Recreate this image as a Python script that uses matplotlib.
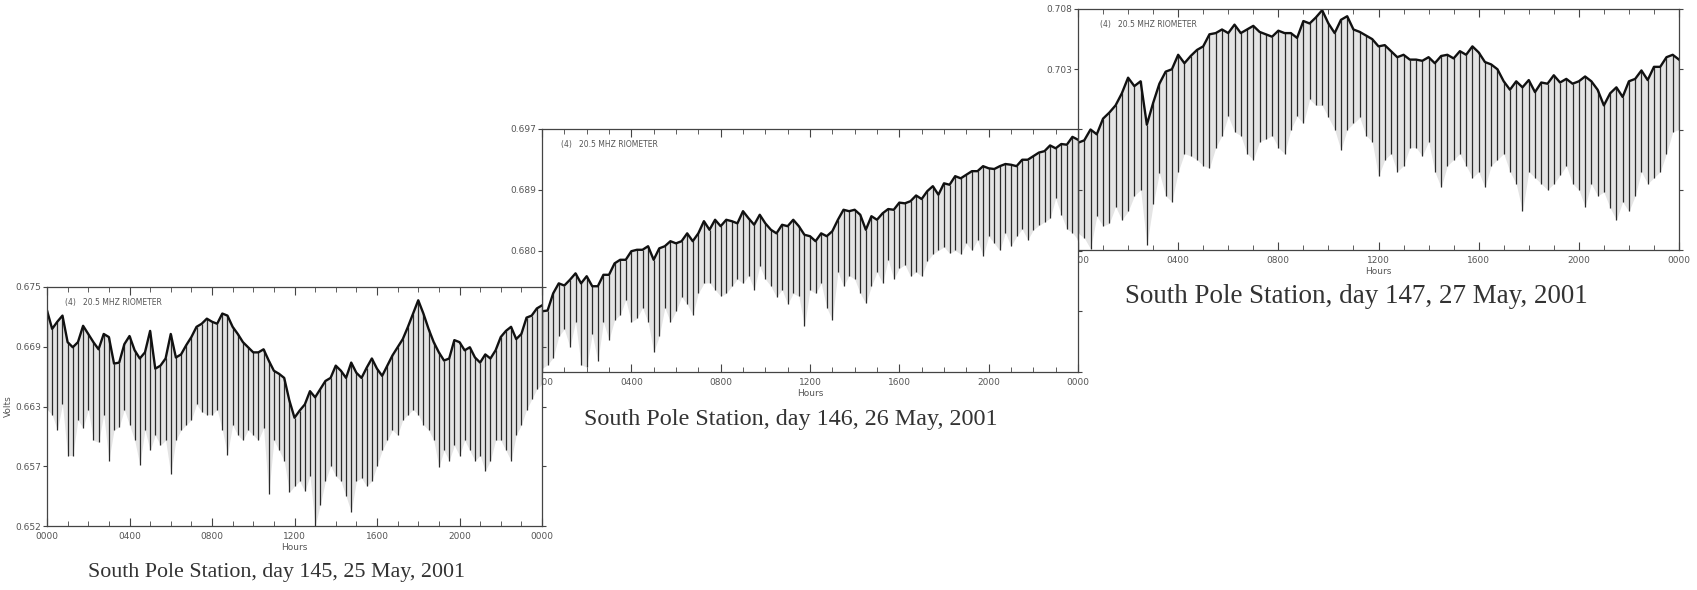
import numpy as np
import matplotlib.pyplot as plt

# 15 minute samples over one day
hours = np.arange(0, 24.25, 0.25)

hour_ticks = [0, 4, 8, 12, 16, 20, 24]
hour_labels = ['0000', '0400', '0800', '1200', '1600', '2000', '0000']

# day 145 - upper trace and spike minima (volts)
day145_top = [0.6727, 0.6709, 0.6716, 0.6722, 0.6696, 0.6691, 0.6696, 0.6712,
              0.6704, 0.6696, 0.6689, 0.6704, 0.6701, 0.6675, 0.6676, 0.6694,
              0.6702, 0.6688, 0.6680, 0.6686, 0.6707, 0.6670, 0.6673, 0.6680,
              0.6704, 0.6681, 0.6684, 0.6693, 0.6701, 0.6711, 0.6714, 0.6719,
              0.6716, 0.6714, 0.6724, 0.6722, 0.6711, 0.6704, 0.6696, 0.6691,
              0.6686, 0.6686, 0.6689, 0.6678, 0.6668, 0.6665, 0.6661, 0.6639,
              0.6622, 0.6629, 0.6635, 0.6648, 0.6642, 0.6650, 0.6658, 0.6661,
              0.6673, 0.6668, 0.6661, 0.6676, 0.6666, 0.6661, 0.6671, 0.6680,
              0.6670, 0.6663, 0.6673, 0.6683, 0.6691, 0.6699, 0.6711, 0.6724,
              0.6737, 0.6724, 0.6709, 0.6696, 0.6686, 0.6678, 0.6680, 0.6698,
              0.6696, 0.6688, 0.6691, 0.6681, 0.6676, 0.6684, 0.6680, 0.6688,
              0.6701, 0.6707, 0.6711, 0.6699, 0.6704, 0.6720, 0.6722, 0.6729,
              0.6732]
day145_low = [0.6630, 0.6625, 0.6610, 0.6635, 0.6585, 0.6585, 0.6620, 0.6612,
              0.6630, 0.6600, 0.6598, 0.6625, 0.6580, 0.6610, 0.6613, 0.6630,
              0.6615, 0.6600, 0.6576, 0.6610, 0.6590, 0.6605, 0.6595, 0.6600,
              0.6567, 0.6600, 0.6610, 0.6615, 0.6620, 0.6635, 0.6628, 0.6625,
              0.6625, 0.6630, 0.6610, 0.6586, 0.6615, 0.6605, 0.6600, 0.6610,
              0.6605, 0.6600, 0.6612, 0.6547, 0.6600, 0.6590, 0.6580, 0.6549,
              0.6555, 0.6560, 0.6550, 0.6565, 0.6516, 0.6537, 0.6560, 0.6575,
              0.6565, 0.6560, 0.6545, 0.6530, 0.6560, 0.6563, 0.6555, 0.6560,
              0.6575, 0.6590, 0.6600, 0.6610, 0.6605, 0.6620, 0.6625, 0.6630,
              0.6625, 0.6615, 0.6610, 0.6600, 0.6574, 0.6590, 0.6580, 0.6595,
              0.6585, 0.6600, 0.6590, 0.6580, 0.6585, 0.6570, 0.6580, 0.6600,
              0.6600, 0.6590, 0.6580, 0.6605, 0.6615, 0.6630, 0.6640, 0.6650,
              0.6655]

# day 146
day146_top = [0.6715, 0.6716, 0.6740, 0.6754, 0.6751, 0.6759, 0.6768, 0.6754,
              0.6764, 0.6750, 0.6750, 0.6766, 0.6766, 0.6782, 0.6787, 0.6787,
              0.6799, 0.6801, 0.6801, 0.6806, 0.6787, 0.6803, 0.6806, 0.6813,
              0.6810, 0.6813, 0.6824, 0.6813, 0.6824, 0.6841, 0.6829, 0.6843,
              0.6834, 0.6843, 0.6841, 0.6838, 0.6855, 0.6845, 0.6836, 0.6850,
              0.6838, 0.6829, 0.6824, 0.6836, 0.6834, 0.6843, 0.6834, 0.6822,
              0.6820, 0.6813, 0.6824, 0.6820, 0.6827, 0.6843, 0.6857, 0.6855,
              0.6857, 0.6850, 0.6829, 0.6848, 0.6843, 0.6852, 0.6858, 0.6857,
              0.6867, 0.6866, 0.6869, 0.6877, 0.6872, 0.6883, 0.6890, 0.6878,
              0.6894, 0.6892, 0.6904, 0.6901, 0.6906, 0.6911, 0.6911, 0.6918,
              0.6915, 0.6914, 0.6918, 0.6921, 0.6920, 0.6918, 0.6927, 0.6927,
              0.6932, 0.6937, 0.6939, 0.6947, 0.6943, 0.6949, 0.6948, 0.6959,
              0.6955]
day146_low = [0.6635, 0.6640, 0.6650, 0.6680, 0.6690, 0.6665, 0.6700, 0.6640,
              0.6637, 0.6683, 0.6645, 0.6700, 0.6675, 0.6703, 0.6710, 0.6731,
              0.6700, 0.6705, 0.6720, 0.6700, 0.6658, 0.6680, 0.6720, 0.6700,
              0.6715, 0.6735, 0.6725, 0.6710, 0.6740, 0.6754, 0.6755, 0.6745,
              0.6736, 0.6740, 0.6750, 0.6760, 0.6754, 0.6765, 0.6745, 0.6778,
              0.6760, 0.6750, 0.6735, 0.6745, 0.6725, 0.6740, 0.6736, 0.6694,
              0.6745, 0.6740, 0.6754, 0.6720, 0.6703, 0.6770, 0.6750, 0.6765,
              0.6760, 0.6740, 0.6726, 0.6750, 0.6770, 0.6754, 0.6787, 0.6760,
              0.6775, 0.6780, 0.6764, 0.6770, 0.6764, 0.6785, 0.6795, 0.6800,
              0.6805, 0.6796, 0.6800, 0.6795, 0.6810, 0.6800, 0.6815, 0.6792,
              0.6820, 0.6810, 0.6800, 0.6825, 0.6806, 0.6820, 0.6830, 0.6815,
              0.6829, 0.6835, 0.6840, 0.6845, 0.6873, 0.6850, 0.6830, 0.6825,
              0.6815]

# day 147
day147_top = [0.6969, 0.6971, 0.6980, 0.6976, 0.6989, 0.6994, 0.7000, 0.7010,
              0.7023, 0.7016, 0.7020, 0.6984, 0.7002, 0.7018, 0.7028, 0.7030,
              0.7042, 0.7035, 0.7041, 0.7046, 0.7049, 0.7059, 0.7060, 0.7063,
              0.7060, 0.7067, 0.7060, 0.7063, 0.7066, 0.7061, 0.7059, 0.7057,
              0.7062, 0.7060, 0.7060, 0.7056, 0.7070, 0.7068, 0.7073, 0.7079,
              0.7068, 0.7060, 0.7071, 0.7074, 0.7063, 0.7061, 0.7058, 0.7055,
              0.7049, 0.7050, 0.7045, 0.7040, 0.7042, 0.7038, 0.7038, 0.7037,
              0.7040, 0.7035, 0.7041, 0.7042, 0.7039, 0.7045, 0.7042, 0.7049,
              0.7044, 0.7036, 0.7034, 0.7030, 0.7020, 0.7013, 0.7020, 0.7015,
              0.7021, 0.7011, 0.7019, 0.7018, 0.7025, 0.7019, 0.7022, 0.7018,
              0.7020, 0.7024, 0.7020, 0.7013, 0.7000, 0.7010, 0.7015, 0.7007,
              0.7020, 0.7022, 0.7029, 0.7021, 0.7032, 0.7032, 0.7040, 0.7042,
              0.7038]
day147_low = [0.6894, 0.6890, 0.6881, 0.6908, 0.6900, 0.6902, 0.6916, 0.6905,
              0.6912, 0.6925, 0.6930, 0.6884, 0.6918, 0.6944, 0.6925, 0.6920,
              0.6945, 0.6960, 0.6958, 0.6955, 0.6950, 0.6948, 0.6965, 0.6975,
              0.6991, 0.6978, 0.6975, 0.6960, 0.6955, 0.6970, 0.6972, 0.6975,
              0.6965, 0.6960, 0.6980, 0.6991, 0.6985, 0.7005, 0.7000, 0.7000,
              0.6990, 0.6980, 0.6963, 0.6980, 0.6985, 0.6990, 0.6975, 0.6970,
              0.6941, 0.6955, 0.6960, 0.6945, 0.6950, 0.6965, 0.6965, 0.6958,
              0.6970, 0.6945, 0.6932, 0.6950, 0.6955, 0.6960, 0.6950, 0.6940,
              0.6945, 0.6932, 0.6950, 0.6955, 0.6960, 0.6945, 0.6935, 0.6912,
              0.6945, 0.6940, 0.6935, 0.6930, 0.6935, 0.6942, 0.6950, 0.6935,
              0.6930, 0.6916, 0.6935, 0.6925, 0.6928, 0.6915, 0.6905, 0.6920,
              0.6912, 0.6925, 0.6945, 0.6935, 0.6940, 0.6945, 0.6960, 0.6978,
              0.6980]

ylim145 = (0.6516, 0.6750)
ylim146 = (0.6630, 0.6970)
ylim147 = (0.6880, 0.7080)
# lower labels sit under the next panel and are not seen
vlabels145 = ['0.652', '0.657', '0.663', '0.669', '0.675']
vlabels146 = ['', '', '0.680', '0.689', '0.697']
vlabels147 = ['', '', '', '0.703', '0.708']

W, H = 1697, 590
fig = plt.figure(figsize=(W / 100, H / 100), dpi=100)
grey = '#555555'


def panel(px, top, low, ylim, vlabels, caption, capw, z, ylab=None):
    # px = left, top, right, bottom in pixels
    l, t, r, b = px
    ax = fig.add_axes([l / W, 1 - b / H, (r - l) / W, (b - t) / H])
    ax.set_zorder(z)
    ax.set_facecolor('white')
    ax.fill_between(hours, low, top, color='#e4e4e4', lw=0)
    ax.vlines(hours, low, top, color='#2a2a2a', lw=0.9)
    ax.plot(hours, top, color='#111111', lw=1.7)
    ax.set_xlim(0, 24)
    ax.set_ylim(*ylim)
    ax.set_xticks(hour_ticks)
    ax.set_xticklabels(hour_labels)
    ax.set_xticks(range(25), minor=True)
    ax.set_yticks(np.linspace(ylim[0], ylim[1], 5))
    ax.set_yticklabels(vlabels)
    ax.tick_params(axis='x', which='both', direction='in', top=True,
                   labelsize=6.5, labelcolor=grey, color='#444444', pad=4)
    ax.tick_params(axis='x', which='major', length=6)
    ax.tick_params(axis='x', which='minor', length=3.5)
    ax.tick_params(axis='y', direction='out', right=True, length=3,
                   labelsize=6.5, labelcolor=grey, color='#444444', pad=1)
    for s in ax.spines.values():
        s.set_color('#444444')
        s.set_linewidth(0.9)
    ax.set_xlabel('Hours', fontsize=6.5, color=grey, labelpad=2)
    if ylab:
        ax.set_ylabel(ylab, fontsize=6.5, color=grey, labelpad=2)
    ax.text(0.036, 0.955, '(4)   20.5 MHZ RIOMETER', transform=ax.transAxes,
            fontsize=5.5, color=grey, va='top')
    cap = fig.text((l + 0.464 * (r - l)) / W, 1 - (b + 47) / H, caption,
                   ha='center', va='center', family='Liberation Serif',
                   fontsize=16, color='#333333')
    fig.canvas.draw()
    w = cap.get_window_extent().width
    cap.set_fontsize(16 * capw / w)
    return ax


panel((1078, 9, 1679, 250), day147_top, day147_low, ylim147, vlabels147,
      'South Pole Station, day 147, 27 May, 2001', 463, 1)
panel((542, 129, 1078, 372), day146_top, day146_low, ylim146, vlabels146,
      'South Pole Station, day 146, 26 May, 2001', 414, 2)
panel((47, 287, 542, 526), day145_top, day145_low, ylim145, vlabels145,
      'South Pole Station, day 145, 25 May, 2001', 379, 3, ylab='Volts')

fig.savefig('out.png', dpi=100, facecolor='white')
